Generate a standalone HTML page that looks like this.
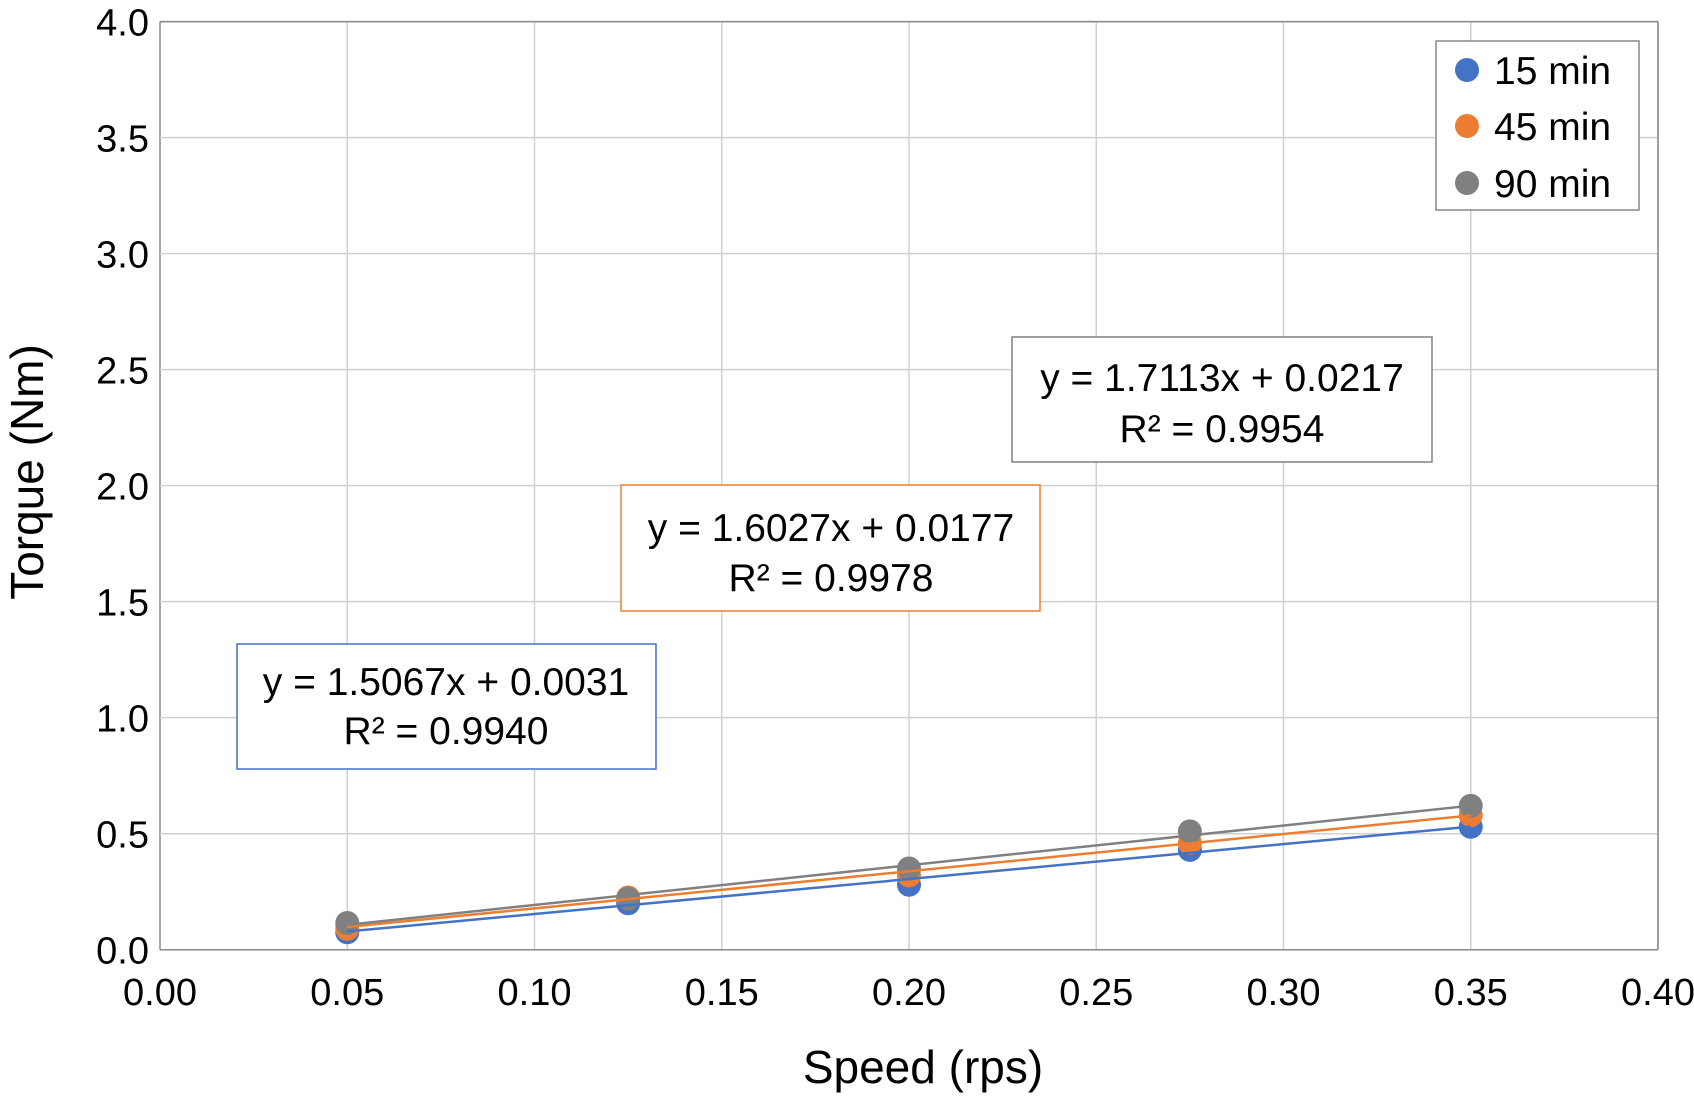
<!DOCTYPE html>
<html><head><meta charset="utf-8"><style>
body{margin:0;background:#fff}
svg{display:block;font-family:"Liberation Sans",Arial,sans-serif}
</style></head><body>
<svg id="chart" width="1694" height="1105" viewBox="0 0 1694 1105">
<g id="grid"></g>
<g id="lines"></g>
<g id="pts"></g>
<g id="labels"></g>
<text x="923" y="1083" font-size="46" text-anchor="middle">Speed (rps)</text>
<text transform="translate(43,472) rotate(-90)" font-size="46" text-anchor="middle">Torque (Nm)</text>
<g>
<rect x="237" y="644" width="419" height="125" fill="#fff" stroke="#4472C4" stroke-width="1.5"/>
<text x="446" y="695" font-size="39" text-anchor="middle">y = 1.5067x + 0.0031</text>
<text x="446" y="744" font-size="39" text-anchor="middle">R² = 0.9940</text></g>
<g>
<rect x="621" y="485" width="419" height="126" fill="#fff" stroke="#ED7D31" stroke-width="1.5"/>
<text x="831" y="541" font-size="39" text-anchor="middle">y = 1.6027x + 0.0177</text>
<text x="831" y="591" font-size="39" text-anchor="middle">R² = 0.9978</text></g>
<g>
<rect x="1012" y="337" width="420" height="125" fill="#fff" stroke="#808080" stroke-width="1.5"/>
<text x="1222" y="391" font-size="39" text-anchor="middle">y = 1.7113x + 0.0217</text>
<text x="1222" y="442" font-size="39" text-anchor="middle">R² = 0.9954</text></g>
<g>
<rect x="1436" y="41" width="203" height="169" fill="#fff" stroke="#888" stroke-width="1.5"/>
<circle cx="1467" cy="70" r="12" fill="#4472C4"/><text x="1494" y="84" font-size="39">15 min</text>
<circle cx="1467" cy="126" r="12" fill="#ED7D31"/><text x="1494" y="140" font-size="39">45 min</text>
<circle cx="1467" cy="183" r="12" fill="#808080"/><text x="1494" y="197" font-size="39">90 min</text>
</g>
</svg>
<script>
const speeds=[0.05,0.125,0.2,0.275,0.35];
const t15=[0.075,0.2,0.28,0.43,0.53];
const t45=[0.09,0.225,0.32,0.46,0.58];
const t90=[0.115,0.22,0.35,0.51,0.62];
const slopes=[1.5067,1.6027,1.7113];
const intercepts=[0.0031,0.0177,0.0217];
const xTicks=[0,0.05,0.1,0.15,0.2,0.25,0.3,0.35,0.4];
const yTicks=[0,0.5,1,1.5,2,2.5,3,3.5,4];
const L=160,R=1658,T=21.6,B=949.7;
const X=v=>L+(R-L)*v/0.4, Y=v=>B-(B-T)*v/4;
const NS="http://www.w3.org/2000/svg";
function mk(p,tag,a){const e=document.createElementNS(NS,tag);for(const k in a)e.setAttribute(k,a[k]);p.appendChild(e);return e;}
const g=document.getElementById('grid'),lb=document.getElementById('labels');
xTicks.forEach(v=>{const l=mk(g,'line',{x1:X(v),x2:X(v),y1:T,y2:B,stroke:v===0?'#888':'#d0d0d0','stroke-width':1.5});


const t=mk(lb,'text',{x:X(v),y:1005,'font-size':38,'text-anchor':'middle'});t.textContent=v.toFixed(2);

});
yTicks.forEach(v=>{const l=mk(g,'line',{x1:L,x2:R,y1:Y(v),y2:Y(v),stroke:v===0?'#888':'#d0d0d0','stroke-width':1.5});


const t=mk(lb,'text',{x:149,y:Y(v)+14,'font-size':38,'text-anchor':'end'});t.textContent=v.toFixed(1);

});
mk(g,'line',{x1:R,x2:R,y1:T,y2:B,stroke:'#888','stroke-width':1.5});
mk(g,'line',{x1:L,x2:R,y1:T,y2:T,stroke:'#888','stroke-width':1.5});
const series=[t15,t45,t90],cols=['#4472C4','#ED7D31','#808080'],names=['15min','45min','90min'];
const ln=document.getElementById('lines'),pt=document.getElementById('pts');
series.forEach((s,i)=>{s.forEach((v,j)=>{const c=mk(pt,'circle',{cx:X(speeds[j]),cy:Y(v),r:12,fill:cols[i]});

});});
series.forEach((s,i)=>{const x0=speeds[0],x1=speeds[speeds.length-1];
const l=mk(ln,'line',{x1:X(x0),y1:Y(slopes[i]*x0+intercepts[i]),x2:X(x1),y2:Y(slopes[i]*x1+intercepts[i]),stroke:cols[i],'stroke-width':2.5});

});
document.getElementById('chart').insertBefore(ln,null);
</script>
</body></html>
